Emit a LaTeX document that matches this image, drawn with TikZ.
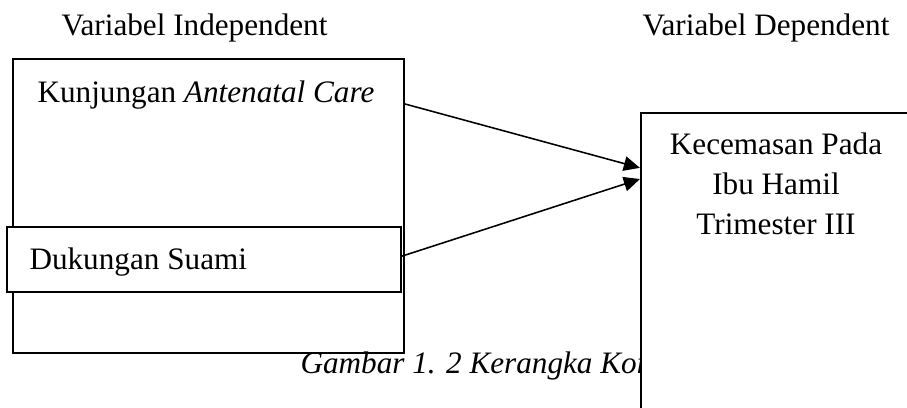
\documentclass[tikz,border=0pt]{standalone}
\usepackage{fontspec}
\setmainfont{Liberation Serif}
\usetikzlibrary{positioning,fit,arrows.meta}

\begin{document}
\begin{tikzpicture}[x=0.3846pt, y=-0.3846pt,
	kotak/.style={draw, rectangle, line width=0.8pt, inner sep=0pt, fill=white},
	teks/.style={inner sep=0pt, font=\fontsize{12}{15.2}\selectfont, align=center},
	panah/.style={-{Triangle[length=6.2pt, width=5.6pt]}, line width=0.6pt}]
	\useasboundingbox (0,0) rectangle (907,407);
	\clip (0,0) rectangle (907,407);
	\node[teks, anchor=base west] (judulx) at (61,35) {Variabel Independent};
	\node[teks, anchor=base west] (juduly) at (642,35) {Variabel Dependent};
	\node[kotak, fit={(13,59) (404,353)}] (indep) {};
	\node[teks, anchor=base] (anc) at (206,102) {Kunjungan \textit{Antenatal Care}};
	\node[kotak, fit={(7,227) (401,292)}] (suami) {};
	\node[teks, anchor=base west] (dukungan) at (29,269) {Dukungan Suami};
	\node[teks, anchor=base west] (gambar) at (300,373) {\textit{Gambar 1. 2 Kerangka Kon}};
	\node[kotak, fit={(641,113) (911,450)}] (cemas) {};
	\node[teks, anchor=base] (kecemasan) at (776,234) {Kecemasan Pada\\Ibu Hamil\\Trimester III};
	
	\draw[panah] ([yshift=-17.7pt]indep.north east) -- ([yshift=-21.5pt]cemas.north west);
	\draw[panah] ([yshift=1.3pt]suami.east) -- ([yshift=-25.8pt]cemas.north west);
\end{tikzpicture}
\end{document}
